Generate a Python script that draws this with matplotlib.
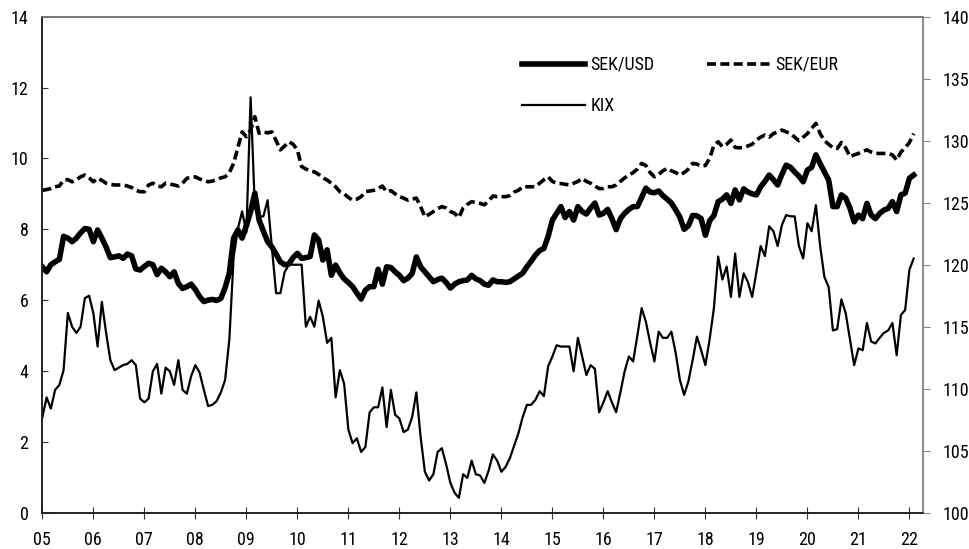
import numpy as np
import matplotlib
matplotlib.use("Agg")
import matplotlib.pyplot as plt
from matplotlib import font_manager

# pick a narrow sans for the labels, DejaVu Sans if none is there
have = set(f.name for f in font_manager.fontManager.ttflist)
narrow = ["Roboto Condensed", "Archivo Narrow", "PT Sans Narrow", "Fira Sans Condensed",
          "IBM Plex Sans Condensed", "Liberation Sans Narrow", "Pragati Narrow",
          "Open Sans Condensed", "Encode Sans Condensed", "Barlow Semi Condensed"]
picked = [n for n in narrow if n in have]
plt.rcParams["font.family"] = picked[:1] + ["DejaVu Sans"]

# monthly data, Jan 2005 - Feb 2022
sek_usd = [
    6.94, 6.8, 7.0, 7.08, 7.15, 7.8, 7.75, 7.65, 7.75, 7.9, 8.02, 8.0,      # 2005
    7.65, 7.98, 7.75, 7.5, 7.2, 7.22, 7.25, 7.18, 7.3, 7.25, 6.88, 6.85,    # 2006
    6.95, 7.04, 7.0, 6.72, 6.9, 6.8, 6.66, 6.8, 6.47, 6.33, 6.38, 6.45,     # 2007
    6.3, 6.1, 5.96, 6.0, 6.02, 5.99, 6.05, 6.35, 6.77, 7.75, 7.98, 7.75,    # 2008
    8.1, 8.5, 9.02, 8.26, 7.95, 7.65, 7.5, 7.3, 7.08, 7.0, 7.02, 7.2,       # 2009
    7.32, 7.18, 7.2, 7.23, 7.84, 7.7, 7.13, 7.42, 6.7, 6.99, 6.77, 6.6,     # 2010
    6.5, 6.38, 6.2, 6.03, 6.28, 6.38, 6.38, 6.87, 6.45, 6.94, 6.92, 6.8,    # 2011
    6.7, 6.55, 6.62, 6.75, 7.22, 6.94, 6.8, 6.66, 6.52, 6.58, 6.62, 6.5,    # 2012
    6.34, 6.45, 6.52, 6.55, 6.57, 6.7, 6.6, 6.55, 6.45, 6.42, 6.57, 6.52,   # 2013
    6.52, 6.5, 6.52, 6.6, 6.68, 6.76, 6.94, 7.1, 7.27, 7.4, 7.46, 7.8,      # 2014
    8.26, 8.45, 8.64, 8.33, 8.5, 8.26, 8.64, 8.5, 8.43, 8.6, 8.74, 8.4,     # 2015
    8.45, 8.56, 8.3, 7.99, 8.3, 8.45, 8.56, 8.64, 8.64, 8.9, 9.16, 9.05,    # 2016
    9.03, 9.08, 8.95, 8.85, 8.74, 8.55, 8.34, 8.0, 8.1, 8.39, 8.38, 8.3,    # 2017
    7.83, 8.24, 8.39, 8.78, 8.85, 8.97, 8.73, 9.11, 8.83, 9.14, 9.05, 9.0,  # 2018
    8.97, 9.2, 9.35, 9.53, 9.4, 9.25, 9.55, 9.81, 9.75, 9.62, 9.5, 9.34,    # 2019
    9.67, 9.75, 10.1, 9.85, 9.62, 9.39, 8.64, 8.64, 8.97, 8.88, 8.6, 8.21,  # 2020
    8.4, 8.3, 8.73, 8.4, 8.3, 8.45, 8.54, 8.59, 8.78, 8.5, 8.97, 9.02,      # 2021
    9.44, 9.53,                                                             # 2022
]

sek_eur = [
    9.1, 9.12, 9.15, 9.2, 9.22, 9.39, 9.4, 9.34, 9.4, 9.48, 9.53, 9.45,
    9.34, 9.44, 9.38, 9.3, 9.27, 9.25, 9.25, 9.25, 9.22, 9.18, 9.1, 9.06,
    9.06, 9.25, 9.3, 9.22, 9.2, 9.3, 9.28, 9.25, 9.22, 9.3, 9.44, 9.46,
    9.48, 9.42, 9.38, 9.34, 9.36, 9.4, 9.45, 9.48, 9.6, 9.86, 10.3, 10.75,
    10.61, 10.8, 11.18, 10.71, 10.75, 10.72, 10.75, 10.5, 10.24, 10.35, 10.47, 10.4,
    10.24, 9.77, 9.7, 9.65, 9.62, 9.55, 9.45, 9.39, 9.3, 9.2, 9.06, 9.0,
    8.9, 8.82, 8.85, 8.92, 9.06, 9.08, 9.1, 9.15, 9.22, 9.06, 9.09, 9.0,
    8.92, 8.88, 8.82, 8.85, 8.88, 8.64, 8.35, 8.42, 8.5, 8.58, 8.64, 8.6,
    8.5, 8.45, 8.33, 8.6, 8.7, 8.78, 8.75, 8.73, 8.69, 8.8, 8.94, 8.92,
    8.92, 8.92, 8.95, 9.05, 9.1, 9.2, 9.2, 9.2, 9.2, 9.3, 9.4, 9.48,
    9.35, 9.3, 9.29, 9.27, 9.25, 9.3, 9.35, 9.44, 9.35, 9.3, 9.22, 9.15,
    9.15, 9.2, 9.2, 9.25, 9.35, 9.45, 9.53, 9.6, 9.7, 9.86, 9.8, 9.6,
    9.48, 9.55, 9.65, 9.72, 9.65, 9.6, 9.53, 9.6, 9.7, 9.86, 9.84, 9.78,
    9.8, 10.0, 10.37, 10.47, 10.33, 10.4, 10.52, 10.31, 10.3, 10.31, 10.35, 10.4,
    10.52, 10.6, 10.66, 10.6, 10.7, 10.75, 10.8, 10.75, 10.7, 10.6, 10.5, 10.6,
    10.7, 10.85, 10.99, 10.7, 10.5, 10.4, 10.3, 10.28, 10.45, 10.3, 10.05, 10.1,
    10.14, 10.2, 10.24, 10.18, 10.14, 10.14, 10.14, 10.14, 10.1, 9.95, 10.18, 10.3,
    10.45, 10.7,
]

kix = [
    107.7, 109.3, 108.4, 109.9, 110.3, 111.5, 116.1, 115.0, 114.5, 115.0, 117.3, 117.5,
    116.1, 113.4, 117.0, 114.5, 112.3, 111.5, 111.7, 111.9, 112.0, 112.3, 111.9, 109.2,
    108.9, 109.2, 111.4, 112.0, 109.6, 111.7, 111.4, 110.3, 112.3, 109.9, 109.6, 111.0,
    111.9, 111.3, 109.9, 108.6, 108.7, 109.0, 109.7, 110.7, 114.0, 120.6, 122.9, 124.3,
    122.6, 133.5, 124.6, 123.9, 123.9, 125.2, 121.4, 117.7, 117.7, 119.4, 120.0, 120.0,
    120.0, 120.0, 115.0, 115.8, 115.0, 117.1, 115.8, 113.7, 114.1, 109.3, 111.5, 110.4,
    106.7, 105.6, 106.0, 104.9, 105.3, 108.1, 108.5, 108.5, 110.1, 106.9, 109.9, 107.9,
    107.6, 106.5, 106.7, 107.7, 109.7, 106.1, 103.3, 102.6, 103.1, 104.9, 105.2, 103.9,
    102.4, 101.6, 101.2, 103.1, 102.8, 104.2, 103.1, 103.0, 102.4, 103.4, 104.7, 104.2,
    103.3, 103.7, 104.4, 105.4, 106.4, 107.7, 108.7, 108.7, 109.1, 109.8, 109.4, 111.8,
    112.6, 113.5, 113.4, 113.4, 113.4, 111.4, 114.1, 112.6, 111.1, 111.9, 111.6, 108.1,
    108.9, 109.8, 108.9, 108.1, 109.7, 111.4, 112.6, 112.2, 114.3, 116.5, 115.4, 113.7,
    112.2, 114.6, 114.1, 114.1, 114.6, 112.9, 110.7, 109.5, 110.6, 112.3, 114.2, 113.1,
    111.9, 114.0, 116.5, 120.66, 118.8, 119.85, 117.4, 120.9, 117.4, 119.3, 118.6, 117.4,
    119.4, 121.5, 120.7, 123.1, 122.7, 121.5, 123.2, 124.0, 123.9, 123.9, 121.5, 120.5,
    123.35, 122.7, 124.8, 121.5, 119.0, 118.2, 114.7, 114.8, 117.2, 116.1, 114.0, 111.9,
    113.25, 113.1, 115.3, 113.8, 113.65, 114.1, 114.5, 114.7, 115.3, 112.7, 115.95, 116.35,
    119.6, 120.5,
]

years = list(range(2005, 2023))
year_labels = ["%02d" % (y % 100) for y in years]

t = 2005 + np.arange(len(sek_usd)) / 12.0

fig = plt.figure(figsize=(9.69, 5.49), dpi=100)
ax = fig.add_axes([0.0437, 0.0661, 0.9085, 0.9035])
ax2 = ax.twinx()

l_usd, = ax.plot(t, sek_usd, color="black", lw=4.0, solid_joinstyle="round", label="SEK/USD")
l_eur, = ax.plot(t, sek_eur, color="black", lw=2.6, ls=(0, (2.5, 1.2)), label="SEK/EUR")
l_kix, = ax2.plot(t, kix, color="black", lw=1.6, label="KIX")

ax.set_xlim(2005, 2022.26)
ax.set_ylim(0, 14)
ax2.set_ylim(100, 140)
ax.set_yticks(range(0, 15, 2))
ax2.set_yticks(range(100, 141, 5))
ax.set_xticks(years)
ax.set_xticklabels(year_labels)

fs = 13
ax.tick_params(axis="y", direction="in", length=4, labelsize=fs, pad=10, color="#333333")
ax.tick_params(axis="x", direction="inout", length=9, labelsize=fs, pad=9, color="#333333")
ax2.tick_params(axis="y", direction="out", length=5, labelsize=fs, pad=9, color="#888888")

for a in (ax, ax2):
    a.spines["left"].set_color("#222222")
    a.spines["bottom"].set_color("#222222")
    a.spines["top"].set_color("#777777")
    a.spines["right"].set_color("#888888")
    for s in a.spines.values():
        s.set_linewidth(1.2)

ax.legend(handles=[l_usd, l_kix, l_eur], ncol=2, frameon=False,
          loc="upper left", bbox_to_anchor=(0.5387, 0.898),
          bbox_transform=fig.transFigure, fontsize=fs,
          handlelength=3.5, handletextpad=0.3, columnspacing=2.9,
          labelspacing=1.3, borderpad=0, borderaxespad=0)

fig.savefig("out.png", dpi=100)
